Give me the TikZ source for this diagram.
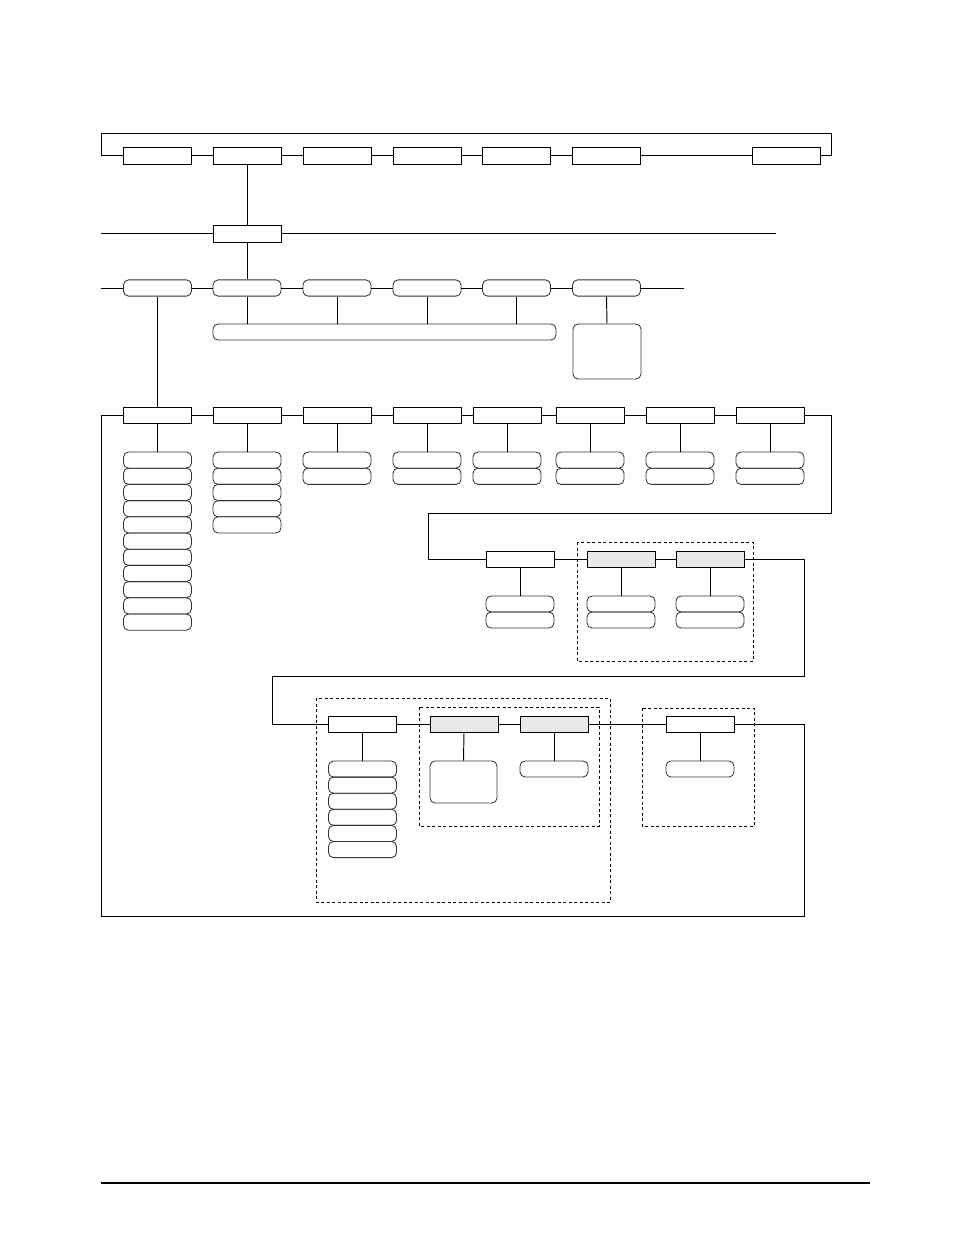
\documentclass[tikz,border=0pt]{standalone}
\usetikzlibrary{positioning}
\begin{document}
\begin{tikzpicture}[x=1pt,y=-1pt,
  sq/.style={draw=black,rectangle,line width=1pt,minimum width=68pt,minimum height=17pt,inner sep=0pt},
  gr/.style={sq,fill=black!9},
  rd/.style={draw=black!80,rectangle,rounded corners=5pt,line width=0.85pt,minimum width=68pt,minimum height=16.2pt,inner sep=0pt},
  conn/.style={line width=0.95pt,draw=black},
  grp/.style={line width=0.9pt,dash pattern=on 3pt off 2.5pt,draw=black}]
\useasboundingbox (0,0) rectangle (954,1235);

% ---- top row
\foreach \n/\x in {1/157.5,2/247,3/337,4/427,5/516.5,6/606.5,7/786.5}
  \node[sq] (b\n) at (\x,155.5) {};
\coordinate (tl) at (101,133);
\coordinate (tr) at (831,133);
\draw[conn] (b1.west) -| (tl) -- (tr) |- (b7.east);
\foreach \a/\b in {1/2,2/3,3/4,4/5,5/6,6/7} \draw[conn] (b\a) -- (b\b);

% ---- second row
\node[sq] (m) at (247,233.5) {};
\coordinate (l2a) at (101,233.5);
\coordinate (l2b) at (776,233.5);
\draw[conn] (l2a) -- (m.west);
\draw[conn] (m.east) -- (l2b);
\draw[conn] (b2.south) -- (m.north);

% ---- third row
\foreach \n/\x in {1/157.5,2/247,3/337,4/427,5/516.5,6/606.5}
  \node[rd] (r\n) at (\x,288) {};
\coordinate (l3a) at (101,288);
\coordinate (l3b) at (684,288);
\draw[conn] (l3a) -- (r1.west);
\draw[conn] (r6.east) -- (l3b);
\foreach \a/\b in {1/2,2/3,3/4,4/5,5/6} \draw[conn] (r\a) -- (r\b);
\draw[conn] (m.south) -- (r2.north);
\node[rd,minimum width=343pt,minimum height=16pt] (bar) at (384.5,332) {};
\foreach \n in {2,3,4,5} \draw[conn] (r\n.south) -- (r\n.south |- bar.north);
\node[rd,minimum height=55pt] (tall) at (607,351.5) {};
\draw[conn] (r6.south) -- (tall.north);

% ---- fourth row
\foreach \n/\x/\k in {1/157.5/11,2/247/5,3/337/2,4/427/2,5/507/2,6/590/2,7/680/2,8/770/2}{
  \node[sq,minimum height=16pt] (c\n) at (\x,415) {};
  \foreach \j in {1,...,\k}
    \node[rd] (c\n-\j) at (\x,{452+8.1+16.2*(\j-1)}) {};
  \draw[conn] (c\n.south) -- (c\n-1.north);
}
\foreach \a/\b in {1/2,2/3,3/4,4/5,5/6,6/7,7/8} \draw[conn] (c\a) -- (c\b);
\draw[conn] (r1.south) -- (c1.north);

% ---- fifth row
\node[sq,minimum height=16pt] (e1) at (520,559) {};
\node[gr,minimum height=16pt] (e2) at (621,559) {};
\node[gr,minimum height=16pt] (e3) at (710,559) {};
\foreach \n in {1,2,3}{
  \foreach \j in {1,2}
    \node[rd,minimum height=16pt] (e\n-\j) at (e\n |- 0,{596+8+16*(\j-1)}) {};
  \draw[conn] (e\n.south) -- (e\n-1.north);
}
\draw[conn] (e1) -- (e2);
\draw[conn] (e2) -- (e3);
\draw[grp] (577,542) rectangle (753,661);
\coordinate (s1) at (831,513);
\coordinate (s2) at (428,513);
\draw[conn] (c8.east) -| (s1) -- (s2) |- (e1.west);

% ---- sixth row
\node[sq,minimum height=16pt] (f1) at (362.5,724) {};
\node[gr,minimum height=16pt] (f2) at (464,724) {};
\node[gr,minimum height=16pt] (f3) at (554,724) {};
\node[sq,minimum height=16pt] (f4) at (700,724) {};
\foreach \j in {1,...,6}
  \node[rd,minimum height=16.1pt] (f1-\j) at (362.5,{761+8.05+16.1*(\j-1)}) {};
\node[rd,minimum width=67pt,minimum height=42pt] (f2-1) at (463.5,782) {};
\node[rd,minimum height=16pt] (f3-1) at (554,769) {};
\node[rd,minimum height=16pt] (f4-1) at (700,769) {};
\foreach \n in {1,2,3,4} \draw[conn] (f\n.south) -- (f\n-1.north);
\draw[conn] (f1) -- (f2);
\draw[conn] (f2) -- (f3);
\draw[conn] (f3) -- (f4);
\draw[grp] (316,698) rectangle (610,902);
\draw[grp] (419,707) rectangle (599,826);
\draw[grp] (642,708) rectangle (754,826);
\coordinate (q1) at (804,676);
\coordinate (q2) at (272,676);
\draw[conn] (e3.east) -| (q1) -- (q2) |- (f1.west);
\coordinate (p1) at (804,916);
\coordinate (p2) at (101,916);
\draw[conn] (f4.east) -| (p1) -- (p2) |- (c1.west);

% ---- footer rule
\coordinate (fa) at (101,1183);
\coordinate (fb) at (870,1183);
\draw[line width=1.3pt] (fa) -- (fb);
\end{tikzpicture}
\end{document}
